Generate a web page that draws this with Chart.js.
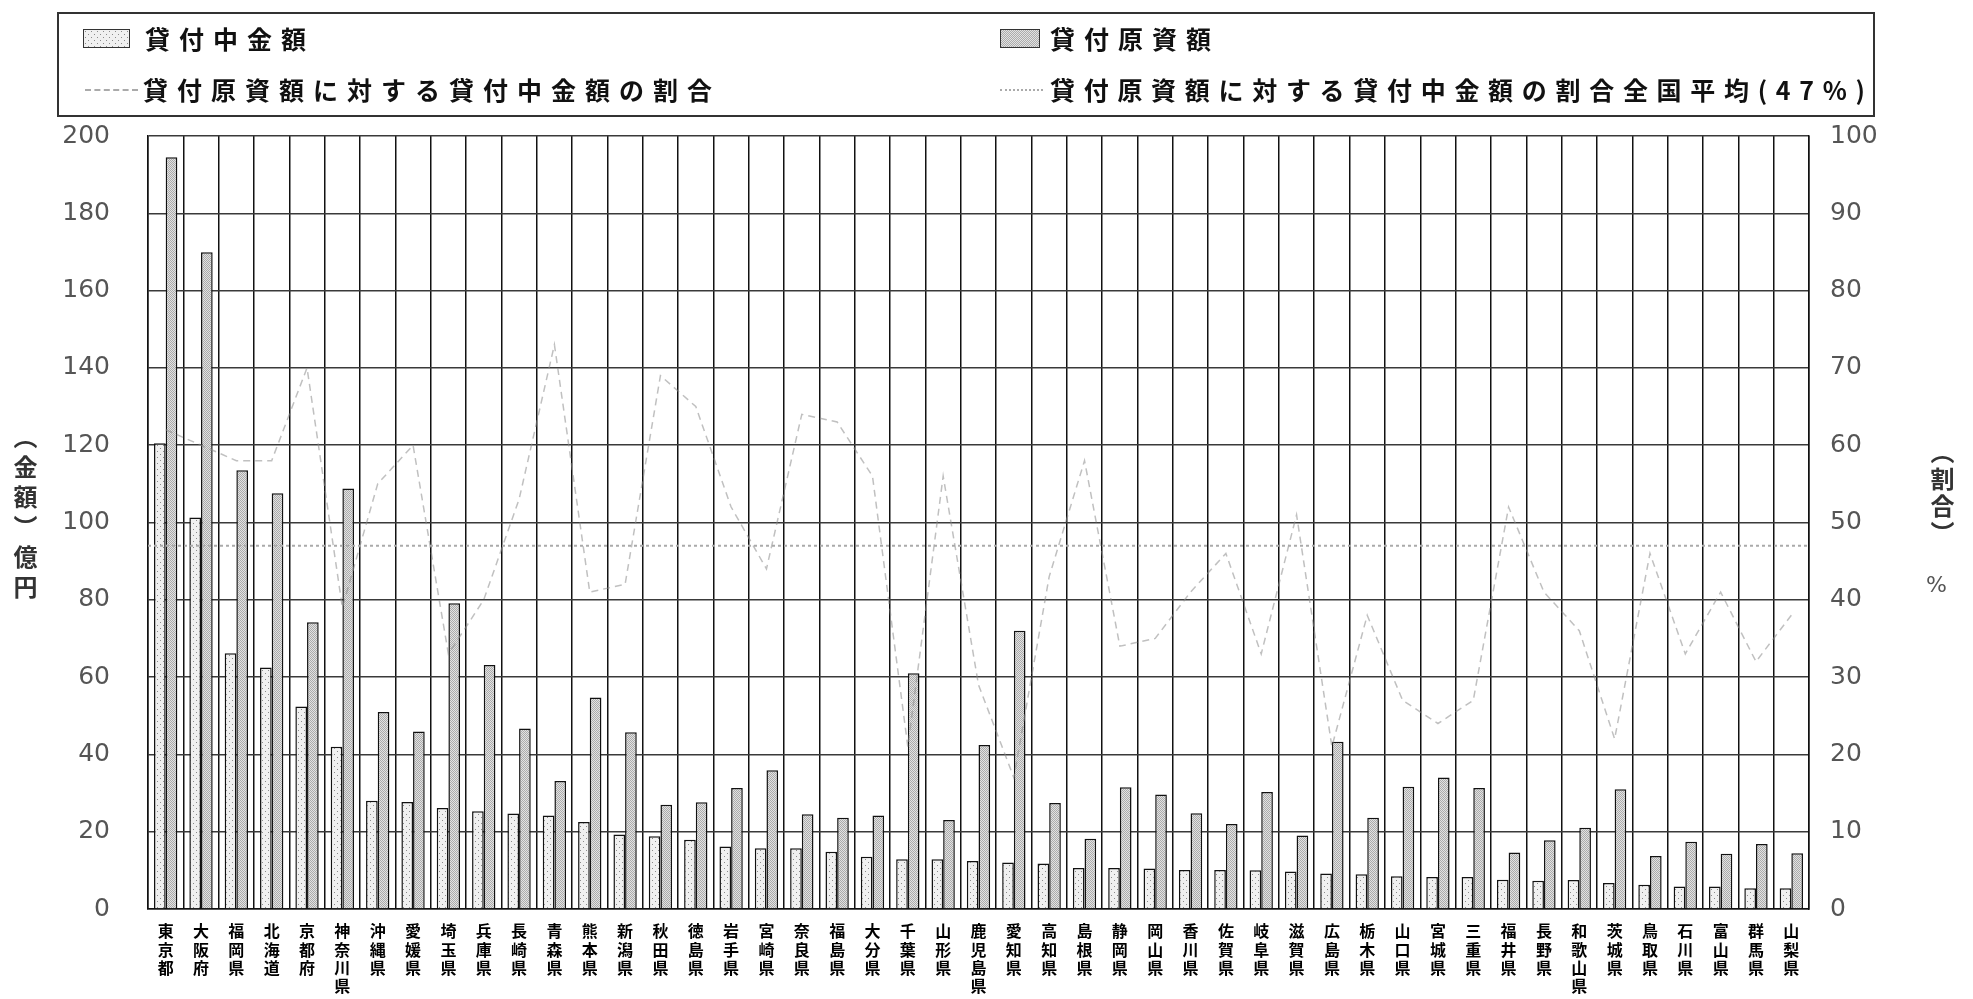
<!DOCTYPE html>
<html lang="ja">
<head>
<meta charset="utf-8">
<title>貸付原資額と貸付中金額</title>
<script src="https://cdn.jsdelivr.net/npm/chart.js@4/dist/chart.umd.min.js"></script>
<style>
    html, body { margin: 0; padding: 0; background: #fff; }
    #wrap { position: relative; width: 1973px; height: 999px; overflow: hidden; font-family: "Noto Sans CJK JP", sans-serif; }
    #chartBox { position: absolute; left: 0; top: 0; width: 1973px; height: 999px; }
    .legend-box { position: absolute; left: 57px; top: 12px; width: 1818px; height: 105px; border: 2px solid #333; box-sizing: border-box; }
    .item { position: absolute; font-size: 25px; font-weight: bold; letter-spacing: 9px; line-height: 30px; color: #111; white-space: nowrap; }
    .swatch { position: absolute; height: 19px; border: 1.5px solid #333; box-sizing: border-box; }
    .ln { position: absolute; height: 0; }
    .vtitle { position: absolute; writing-mode: vertical-rl; font-size: 24px; font-weight: bold; color: #333; }
</style>
</head>
<body>
<div id="wrap">
    <div id="chartBox"><canvas id="loanChart"></canvas></div>
    <div class="legend-box"></div>
    <div class="swatch" id="sw1" style="left:83px; top:29px; width:47px;"></div>
    <div class="item" style="left:145px; top:23px;">貸付中金額</div>
    <div class="swatch" id="sw2" style="left:1000px; top:29px; width:40px;"></div>
    <div class="item" style="left:1050px; top:23px;">貸付原資額</div>
    <div class="ln" style="left:85px; top:89px; width:53px; border-top:2px dashed #aaa;"></div>
    <div class="item" style="left:143px; top:74px;">貸付原資額に対する貸付中金額の割合</div>
    <div class="ln" style="left:1000px; top:89px; width:43px; border-top:2px dotted #aaa;"></div>
    <div class="item" style="left:1050px; top:74px; letter-spacing:8.7px;">貸付原資額に対する貸付中金額の割合全国平均(47%)</div>
    <div class="vtitle" style="left:8px; top:425px; letter-spacing:6px;">（金額）億円</div>
    <div class="vtitle" style="left:1925px; top:440px; letter-spacing:3px;">（割合）</div>
    <div style="position:absolute; left:1926px; top:572px; font-family:'DejaVu Sans'; font-size:22px; color:#555;">%</div>
</div>
<script>
const prefectures = ['東京都', '大阪府', '福岡県', '北海道', '京都府', '神奈川県', '沖縄県', '愛媛県', '埼玉県', '兵庫県',
    '長崎県', '青森県', '熊本県', '新潟県', '秋田県', '徳島県', '岩手県', '宮崎県', '奈良県', '福島県',
    '大分県', '千葉県', '山形県', '鹿児島県', '愛知県', '高知県', '島根県', '静岡県', '岡山県', '香川県',
    '佐賀県', '岐阜県', '滋賀県', '広島県', '栃木県', '山口県', '宮城県', '三重県', '福井県', '長野県',
    '和歌山県', '茨城県', '鳥取県', '石川県', '富山県', '群馬県', '山梨県'];

// 貸付中金額 (億円)
const lentAmounts = [120.5, 101.3, 66.2, 62.5, 52.4, 42, 28, 27.7, 26.1, 25.3,
    24.7, 24.2, 22.5, 19.3, 18.8, 17.9, 16.2, 15.7, 15.7, 14.8,
    13.5, 12.9, 12.9, 12.4, 12, 11.8, 10.6, 10.6, 10.5, 10.1,
    10.1, 10, 9.7, 9.2, 9, 8.5, 8.3, 8.3, 7.6, 7.3,
    7.5, 6.7, 6.3, 5.8, 5.8, 5.4, 5.4];

// 貸付原資額 (億円)
const fundAmounts = [194.5, 169.9, 113.5, 107.6, 74.2, 108.8, 51, 45.9, 79.1, 63.1,
    46.7, 33.1, 54.7, 45.7, 27, 27.6, 31.3, 35.9, 24.5, 23.6,
    24.2, 61, 23, 42.4, 72, 27.4, 18.2, 31.5, 29.6, 24.8,
    22, 30.3, 19, 43.3, 23.6, 31.6, 34, 31.3, 14.6, 17.8,
    21, 31, 13.7, 17.4, 14.3, 16.8, 14.4];

// 貸付原資額に対する貸付中金額の割合 (%)
const ratioValues = [62, 60, 58, 58, 70, 39, 55, 60, 33, 40,
    53, 73, 41, 42, 69, 65, 52, 44, 64, 63,
    56, 21, 56, 29, 17, 43, 58, 34, 35, 41,
    46, 33, 51, 21, 38, 27, 24, 27, 52, 41,
    36, 22, 46, 33, 41, 32, 38];

const nationalAverage = 47;
const amountTicks = { min: 0, max: 200, step: 20 };
const ratioTicks = { min: 0, max: 100, step: 10 };

function dotPattern() {
    const c = document.createElement('canvas');
    c.width = 6; c.height = 6;
    const g = c.getContext('2d');
    g.fillStyle = '#f0f0f0';
    g.fillRect(0, 0, 6, 6);
    g.fillStyle = '#8a8a8a';
    g.fillRect(1, 1, 1, 1);
    g.fillRect(4, 4, 1, 1);
    return c;
}

function hatchPattern() {
    const c = document.createElement('canvas');
    c.width = 4; c.height = 4;
    const g = c.getContext('2d');
    for (let x = 0; x < 4; x++) {
        for (let y = 0; y < 4; y++) {
            g.fillStyle = (x + y) % 2 === 0 ? '#ababab' : '#e2e2e2';
            g.fillRect(x, y, 1, 1);
        }
    }
    return c;
}

const dotsCanvas = dotPattern();
const hatchCanvas = hatchPattern();
document.getElementById('sw1').style.background = 'url(' + dotsCanvas.toDataURL() + ')';
document.getElementById('sw2').style.background = 'url(' + hatchCanvas.toDataURL() + ')';

const ctx = document.getElementById('loanChart').getContext('2d');
const dotFill = ctx.createPattern(dotsCanvas, 'repeat');
const hatchFill = ctx.createPattern(hatchCanvas, 'repeat');

// horizontal line for the national average ratio
const averageLine = {
    id: 'averageLine',
    afterDatasetsDraw(chart) {
        const area = chart.chartArea;
        const y = chart.scales.y1.getPixelForValue(nationalAverage);
        const c = chart.ctx;
        c.save();
        c.strokeStyle = '#aaa';
        c.lineWidth = 2;
        c.setLineDash([3, 3]);
        c.beginPath();
        c.moveTo(area.left, y);
        c.lineTo(area.right, y);
        c.stroke();
        c.restore();
    }
};

new Chart(ctx, {
    type: 'bar',
    data: {
        labels: prefectures,
        datasets: [{
            label: '貸付中金額',
            data: lentAmounts,
            backgroundColor: dotFill,
            borderColor: '#111',
            borderWidth: 1.5,
            categoryPercentage: 0.66,
            barPercentage: 1.0,
            yAxisID: 'y',
            order: 2
        }, {
            label: '貸付原資額',
            data: fundAmounts,
            backgroundColor: hatchFill,
            borderColor: '#111',
            borderWidth: 1.5,
            categoryPercentage: 0.66,
            barPercentage: 1.0,
            yAxisID: 'y',
            order: 2
        }, {
            type: 'line',
            label: '貸付原資額に対する貸付中金額の割合',
            data: ratioValues,
            borderColor: 'rgba(140,140,140,0.55)',
            borderWidth: 1.5,
            borderDash: [7, 5],
            pointRadius: 0,
            tension: 0,
            fill: false,
            yAxisID: 'y1',
            order: 1
        }]
    },
    options: {
        responsive: true,
        maintainAspectRatio: false,
        animation: false,
        devicePixelRatio: 1,
        layout: { padding: { top: 136, left: 0, right: 0, bottom: 0 } },
        plugins: {
            legend: { display: false },
            tooltip: { enabled: false }
        },
        scales: {
            x: {
                grid: { color: '#111', lineWidth: 1.5, drawTicks: false, offset: true },
                border: { color: '#111', width: 1.5 },
                ticks: {
                    autoSkip: false,
                    maxRotation: 0,
                    minRotation: 0,
                    padding: 13,
                    color: '#000',
                    font: { family: '"Noto Sans CJK JP"', size: 16, weight: 'bold', lineHeight: 1.15 },
                    callback: function(value, index) {
                        return prefectures[index].split('');
                    }
                },
                afterFit: function(scale) { scale.height = 90; }
            },
            y: {
                position: 'left',
                min: amountTicks.min,
                max: amountTicks.max,
                ticks: {
                    stepSize: amountTicks.step,
                    padding: 38,
                    color: '#555',
                    font: { family: '"DejaVu Sans"', size: 25 }
                },
                grid: { color: '#3a3a3a', lineWidth: 1.5, drawTicks: false },
                border: { color: '#111', width: 1.5 },
                afterFit: function(scale) { scale.width = 148; }
            },
            y1: {
                position: 'right',
                min: ratioTicks.min,
                max: ratioTicks.max,
                ticks: {
                    stepSize: ratioTicks.step,
                    padding: 21,
                    color: '#555',
                    font: { family: '"DejaVu Sans"', size: 25 }
                },
                grid: { drawOnChartArea: false, drawTicks: false },
                border: { color: '#111', width: 1.5 },
                afterFit: function(scale) { scale.width = 164; }
            }
        }
    },
    plugins: [averageLine]
});
</script>
</body>
</html>
